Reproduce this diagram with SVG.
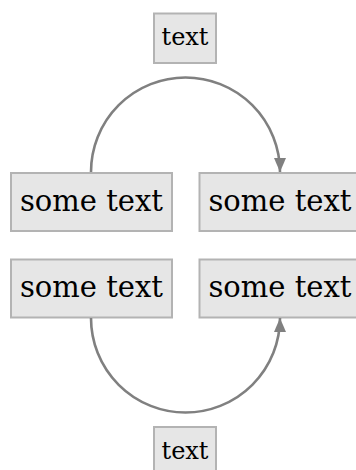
<svg xmlns="http://www.w3.org/2000/svg" width="356" height="470" viewBox="0 0 356 470">
<style>
.box{fill:#e6e6e6;stroke:#b3b3b3;stroke-width:2}
.big{font-family:"DejaVu Serif",serif;font-size:29px;fill:#000;text-anchor:middle}
.small{font-family:"DejaVu Serif",serif;font-size:24px;fill:#000;text-anchor:middle}
.edge{fill:none;stroke:#808080;stroke-width:2.6}
</style>
<defs>
<marker id="arrow" markerUnits="userSpaceOnUse" viewBox="0 0 14 12" refX="14" refY="6" markerWidth="14" markerHeight="12" orient="auto">
<path d="M0,0 L14,6 L0,12 Z" fill="#808080"/>
</marker>
</defs>
<g id="label-top">
<rect class="box" x="154" y="13.5" width="62" height="49.5"/>
<text class="small" x="185" y="45">text</text>
</g>
<g id="node-a">
<rect class="box" x="11" y="173" width="161" height="58"/>
<text class="big" x="91.5" y="210.5">some text</text>
</g>
<g id="node-b">
<rect class="box" x="199.5" y="173" width="161" height="58"/>
<text class="big" x="280" y="210.5">some text</text>
</g>
<g id="node-c">
<rect class="box" x="11" y="259.5" width="161" height="58"/>
<text class="big" x="91.5" y="296.5">some text</text>
</g>
<g id="node-d">
<rect class="box" x="199.5" y="259.5" width="161" height="58"/>
<text class="big" x="280" y="296.5">some text</text>
</g>
<g id="label-bottom">
<rect class="box" x="154" y="427" width="62" height="49.5"/>
<text class="small" x="185" y="458.5">text</text>
</g>
<g id="connectors">
<path class="edge" d="M91,172 A94.5,94.5 0 0 1 280,172" marker-end="url(#arrow)"/>
<path class="edge" d="M91,318 A94.5,94.5 0 0 0 280,318" marker-end="url(#arrow)"/>
</g>
</svg>
